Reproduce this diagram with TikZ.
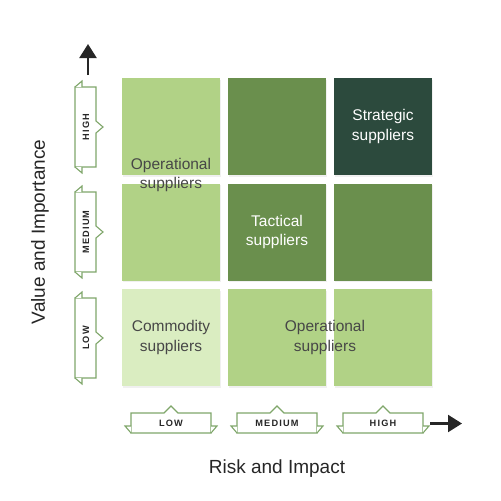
\documentclass[tikz,border=0pt]{standalone}
\usepackage{fontspec}
\setmainfont{Liberation Sans}
\newfontfamily\tabfont[LetterSpace=13]{Liberation Sans}
\usetikzlibrary{shadows,calc,arrows.meta}
\definecolor{cLight}{HTML}{B1D286}
\definecolor{cMid}{HTML}{6A8F4D}
\definecolor{cDark}{HTML}{2C4A3D}
\definecolor{cPale}{HTML}{DAEDC1}
\definecolor{cLine}{HTML}{7FA66A}
\definecolor{cText}{HTML}{474747}
\definecolor{cTab}{HTML}{262626}
\tikzset{
  cell/.style={minimum width=98pt,minimum height=97pt,inner sep=0pt,
    drop shadow={opacity=0.12,shadow xshift=1pt,shadow yshift=-1.5pt}},
  celltext/.style={align=center,font=\fontsize{15.5}{19.5}\selectfont,text=cText},
  tabline/.style={draw=cLine,line width=1.1pt,fill=white,line join=miter},
  tablabel/.style={font=\tabfont\bfseries\fontsize{9.2}{10}\selectfont,text=cTab,inner sep=0pt},
  axislabel/.style={font=\fontsize{19}{22}\selectfont,text=black!85},
  axisarrow/.style={line width=2.3pt,draw=black!85,-{Triangle[length=14pt,width=17pt]}}
}
% horizontal tab outline centred at cx (y 413..433)
\newcommand{\htabshape}[1]{%
  \draw[tabline] (#1-40,433) -- (#1-40,413) -- (#1-7,413) -- (#1,406) -- (#1+7,413)
     -- (#1+40,413) -- (#1+40,433) -- cycle;
  \draw[tabline] (#1-40,426) -- (#1-46,426) -- (#1-40,433);
  \draw[tabline] (#1+40,426) -- (#1+46,426) -- (#1+40,433);
}
% vertical tab outline centred at cy (x 75..96)
\newcommand{\vtabshape}[1]{%
  \draw[tabline] (75,#1-40) -- (96,#1-40) -- (96,#1-6) -- (103,#1) -- (96,#1+6)
     -- (96,#1+40) -- (75,#1+40) -- cycle;
  \draw[tabline] (82,#1-40) -- (82,#1-46) -- (75,#1-40);
  \draw[tabline] (82,#1+40) -- (82,#1+46) -- (75,#1+40);
}
\begin{document}
\begin{tikzpicture}[x=1pt,y=-1pt]
\useasboundingbox (0,0) rectangle (501,501);
% grid cells
\node[cell,fill=cLight] (c11) at (171,126.5) {};
\node[cell,fill=cMid]   (c12) at (277,126.5) {};
\node[cell,fill=cDark]  (c13) at (383,126.5) {};
\node[cell,fill=cLight] (c21) at (171,232) {};
\node[cell,fill=cMid]   (c22) at (277,232) {};
\node[cell,fill=cMid]   (c23) at (383,232) {};
\node[cell,fill=cPale]  (c31) at (171,337.5) {};
\node[cell,fill=cLight] (c32) at (277,337.5) {};
\node[cell,fill=cLight] (c33) at (383,337.5) {};
% cell labels
\node[celltext,text=white] (tStrat) at (383,126.5) {Strategic\\suppliers};
\node[celltext] (tOp1) at (171,175) {Operational\\suppliers};
\node[celltext,text=white] (tTact) at (277,232) {Tactical\\suppliers};
\node[celltext] (tComm) at (171,337.5) {Commodity\\suppliers};
\node[celltext] (tOp2) at (325,337.5) {Operational\\suppliers};
% vertical tabs
\vtabshape{127}
\vtabshape{232}
\vtabshape{338}
\node[tablabel,rotate=90] (vHigh) at (86,127) {HIGH};
\node[tablabel,rotate=90] (vMed) at (86,232) {MEDIUM};
\node[tablabel,rotate=90] (vLow) at (86,338) {LOW};
% horizontal tabs
\htabshape{171}
\htabshape{277}
\htabshape{383}
\node[tablabel] (hLow) at (171,423) {LOW};
\node[tablabel] (hMed) at (277,423) {MEDIUM};
\node[tablabel] (hHigh) at (383,423) {HIGH};
% axis arrows
\coordinate (upS) at (88,75);
\coordinate (upE) at (88,44);
\draw[axisarrow] (upS) -- (upE);
\coordinate (rtS) at (430,423.5);
\coordinate (rtE) at (462,423.5);
\draw[axisarrow] (rtS) -- (rtE);
% axis labels
\node[axislabel,rotate=90] (yLab) at (40,232) {Value and Importance};
\node[axislabel] (xLab) at (277,469) {Risk and Impact};
\end{tikzpicture}
\end{document}
